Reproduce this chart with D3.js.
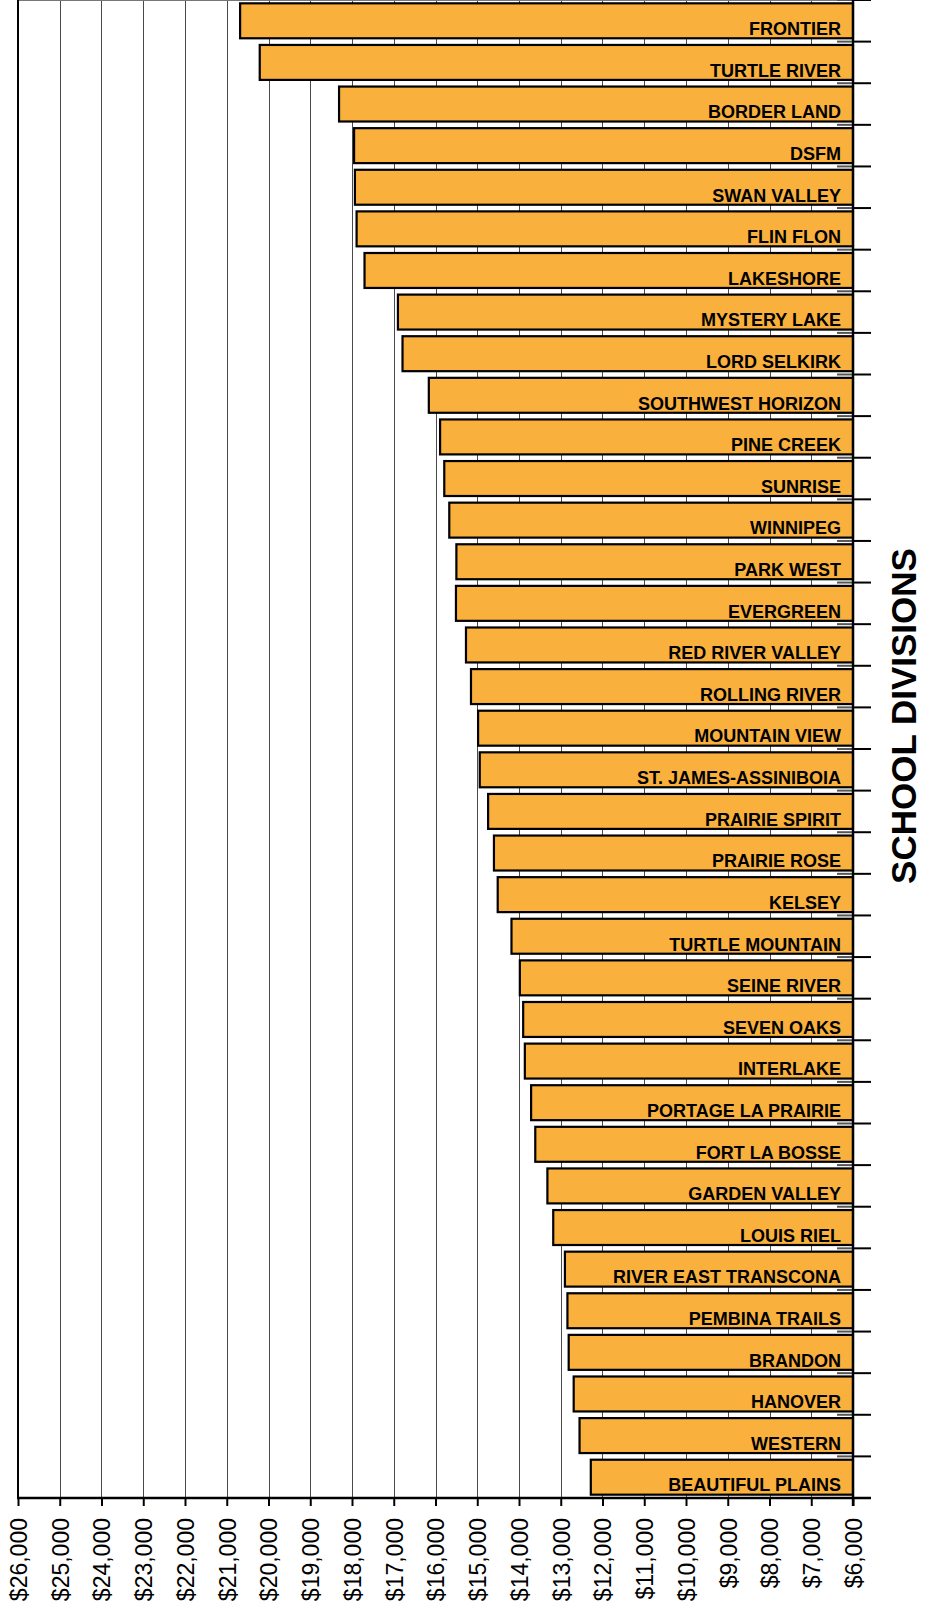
<!DOCTYPE html>
<html>
<head>
<meta charset="utf-8">
<title>School Divisions</title>
<script src="https://cdn.jsdelivr.net/npm/d3@7"></script>
<style>
    html, body { margin: 0; padding: 0; background: #fff; }
    svg { display: block; font-family: 'Liberation Sans', Arial, sans-serif; }
</style>
</head>
<body>
<div id="chart"></div>
<script>
/*jslint browser: true*/
/*global d3*/

var divisions = [
    'FRONTIER', 'TURTLE RIVER', 'BORDER LAND', 'DSFM', 'SWAN VALLEY',
    'FLIN FLON', 'LAKESHORE', 'MYSTERY LAKE', 'LORD SELKIRK',
    'SOUTHWEST HORIZON', 'PINE CREEK', 'SUNRISE', 'WINNIPEG', 'PARK WEST',
    'EVERGREEN', 'RED RIVER VALLEY', 'ROLLING RIVER', 'MOUNTAIN VIEW',
    'ST. JAMES-ASSINIBOIA', 'PRAIRIE SPIRIT', 'PRAIRIE ROSE', 'KELSEY',
    'TURTLE MOUNTAIN', 'SEINE RIVER', 'SEVEN OAKS', 'INTERLAKE',
    'PORTAGE LA PRAIRIE', 'FORT LA BOSSE', 'GARDEN VALLEY', 'LOUIS RIEL',
    'RIVER EAST TRANSCONA', 'PEMBINA TRAILS', 'BRANDON', 'HANOVER',
    'WESTERN', 'BEAUTIFUL PLAINS'
];

// cost per pupil
var costPerPupil = [
    20680, 20210, 18310, 17950, 17930,
    17890, 17700, 16900, 16790,
    16160, 15890, 15790, 15670, 15500,
    15510, 15270, 15150, 14980,
    14940, 14740, 14600, 14510,
    14180, 13980, 13900, 13860,
    13710, 13610, 13320, 13180,
    12900, 12840, 12810, 12690,
    12550, 12280
];

var xTicks = [26000, 25000, 24000, 23000, 22000, 21000, 20000, 19000, 18000,
    17000, 16000, 15000, 14000, 13000, 12000, 11000, 10000, 9000, 8000,
    7000, 6000];

var axisTitle = 'SCHOOL DIVISIONS';

(function (d3) {
    'use strict';

    var width = 926,
        height = 1608,
        left = 18,
        right = 853,
        top = 0,
        bottom = 1498,
        data,
        svg,
        x,
        y,
        xAxis,
        gx,
        bounds;

    data = divisions.map(function (name, i) {
        return {name: name, value: costPerPupil[i]};
    });

    svg = d3.select('#chart')
        .append('svg')
        .attr('width', width)
        .attr('height', height);

    svg.append('rect')
        .attr('width', width)
        .attr('height', height)
        .attr('fill', '#fff');

    x = d3.scaleLinear()
        .domain([26000, 6000])
        .range([left, right]);

    y = d3.scaleBand()
        .domain(divisions)
        .range([top, bottom])
        .paddingInner(0.16)
        .paddingOuter(0.08);

    // vertical gridlines behind the bars
    svg.append('g')
        .attr('class', 'grid')
        .selectAll('line')
        .data(xTicks)
        .enter()
        .append('line')
        .attr('x1', function (d) { return Math.round(x(d)) + 0.5; })
        .attr('x2', function (d) { return Math.round(x(d)) + 0.5; })
        .attr('y1', top)
        .attr('y2', bottom)
        .attr('stroke', '#4a4a4a')
        .attr('stroke-width', 1);

    // top border of the plot
    svg.append('line')
        .attr('x1', left)
        .attr('x2', right + 18)
        .attr('y1', 0.5)
        .attr('y2', 0.5)
        .attr('stroke', '#777')
        .attr('stroke-width', 1);

    // bars
    svg.append('g')
        .attr('class', 'bars')
        .selectAll('rect')
        .data(data)
        .enter()
        .append('rect')
        .attr('x', function (d) { return x(d.value); })
        .attr('y', function (d) { return y(d.name); })
        .attr('width', function (d) { return x(6000) - x(d.value); })
        .attr('height', y.bandwidth())
        .attr('fill', '#FAB03C')
        .attr('stroke', '#000')
        .attr('stroke-width', 2.2);

    // division names inside the bars
    svg.append('g')
        .attr('class', 'labels')
        .selectAll('text')
        .data(data)
        .enter()
        .append('text')
        .attr('x', 841)
        .attr('y', function (d) { return y(d.name) + y.bandwidth() - 3.2; })
        .attr('text-anchor', 'end')
        .attr('font-size', '18px')
        .attr('font-weight', 'bold')
        .attr('fill', '#000')
        .text(function (d) { return d.name; });

    // category boundaries on the right-hand axis
    bounds = d3.range(divisions.length + 1).map(function (i) {
        return top + i * y.step();
    });

    svg.append('g')
        .attr('class', 'inner-ticks')
        .selectAll('line')
        .data(bounds)
        .enter()
        .append('line')
        .attr('x1', right - 16)
        .attr('x2', right)
        .attr('y1', function (d) { return d; })
        .attr('y2', function (d) { return d; })
        .attr('stroke', '#555')
        .attr('stroke-width', 2);

    svg.append('g')
        .attr('class', 'outer-ticks')
        .selectAll('line')
        .data(bounds)
        .enter()
        .append('line')
        .attr('x1', right)
        .attr('x2', right + 18)
        .attr('y1', function (d) { return d; })
        .attr('y2', function (d) { return d; })
        .attr('stroke', '#000')
        .attr('stroke-width', 2);

    // left border and right axis line
    svg.append('line')
        .attr('x1', left)
        .attr('x2', left)
        .attr('y1', top)
        .attr('y2', bottom)
        .attr('stroke', '#000')
        .attr('stroke-width', 2);

    svg.append('line')
        .attr('x1', right)
        .attr('x2', right)
        .attr('y1', top)
        .attr('y2', bottom + 8)
        .attr('stroke', '#000')
        .attr('stroke-width', 2.4);

    // bottom value axis
    xAxis = d3.axisBottom(x)
        .tickValues(xTicks)
        .tickSize(8)
        .tickSizeOuter(0)
        .tickFormat(function (d) { return '$' + d3.format(',')(d); });

    gx = svg.append('g')
        .attr('class', 'x-axis')
        .attr('transform', 'translate(0,' + bottom + ')')
        .call(xAxis);

    gx.select('.domain').remove();
    gx.append('line')
        .attr('x1', left - 1)
        .attr('x2', right + 18)
        .attr('y1', 0)
        .attr('y2', 0)
        .attr('stroke', '#000')
        .attr('stroke-width', 2.4);

    gx.selectAll('.tick line')
        .attr('stroke', '#000')
        .attr('stroke-width', 2);

    gx.selectAll('.tick text')
        .attr('transform', 'translate(0,20) rotate(-90)')
        .attr('x', 0)
        .attr('y', 0)
        .attr('dy', '0.36em')
        .attr('text-anchor', 'end')
        .attr('font-size', '23px')
        .attr('font-family', "'Liberation Sans', Arial, sans-serif")
        .attr('fill', '#000');

    // axis title
    svg.append('text')
        .attr('transform', 'translate(916,716) rotate(-90)')
        .attr('text-anchor', 'middle')
        .attr('font-size', '35px')
        .attr('font-weight', 'bold')
        .attr('fill', '#000')
        .text(axisTitle);

}(window.d3));
</script>
</body>
</html>
